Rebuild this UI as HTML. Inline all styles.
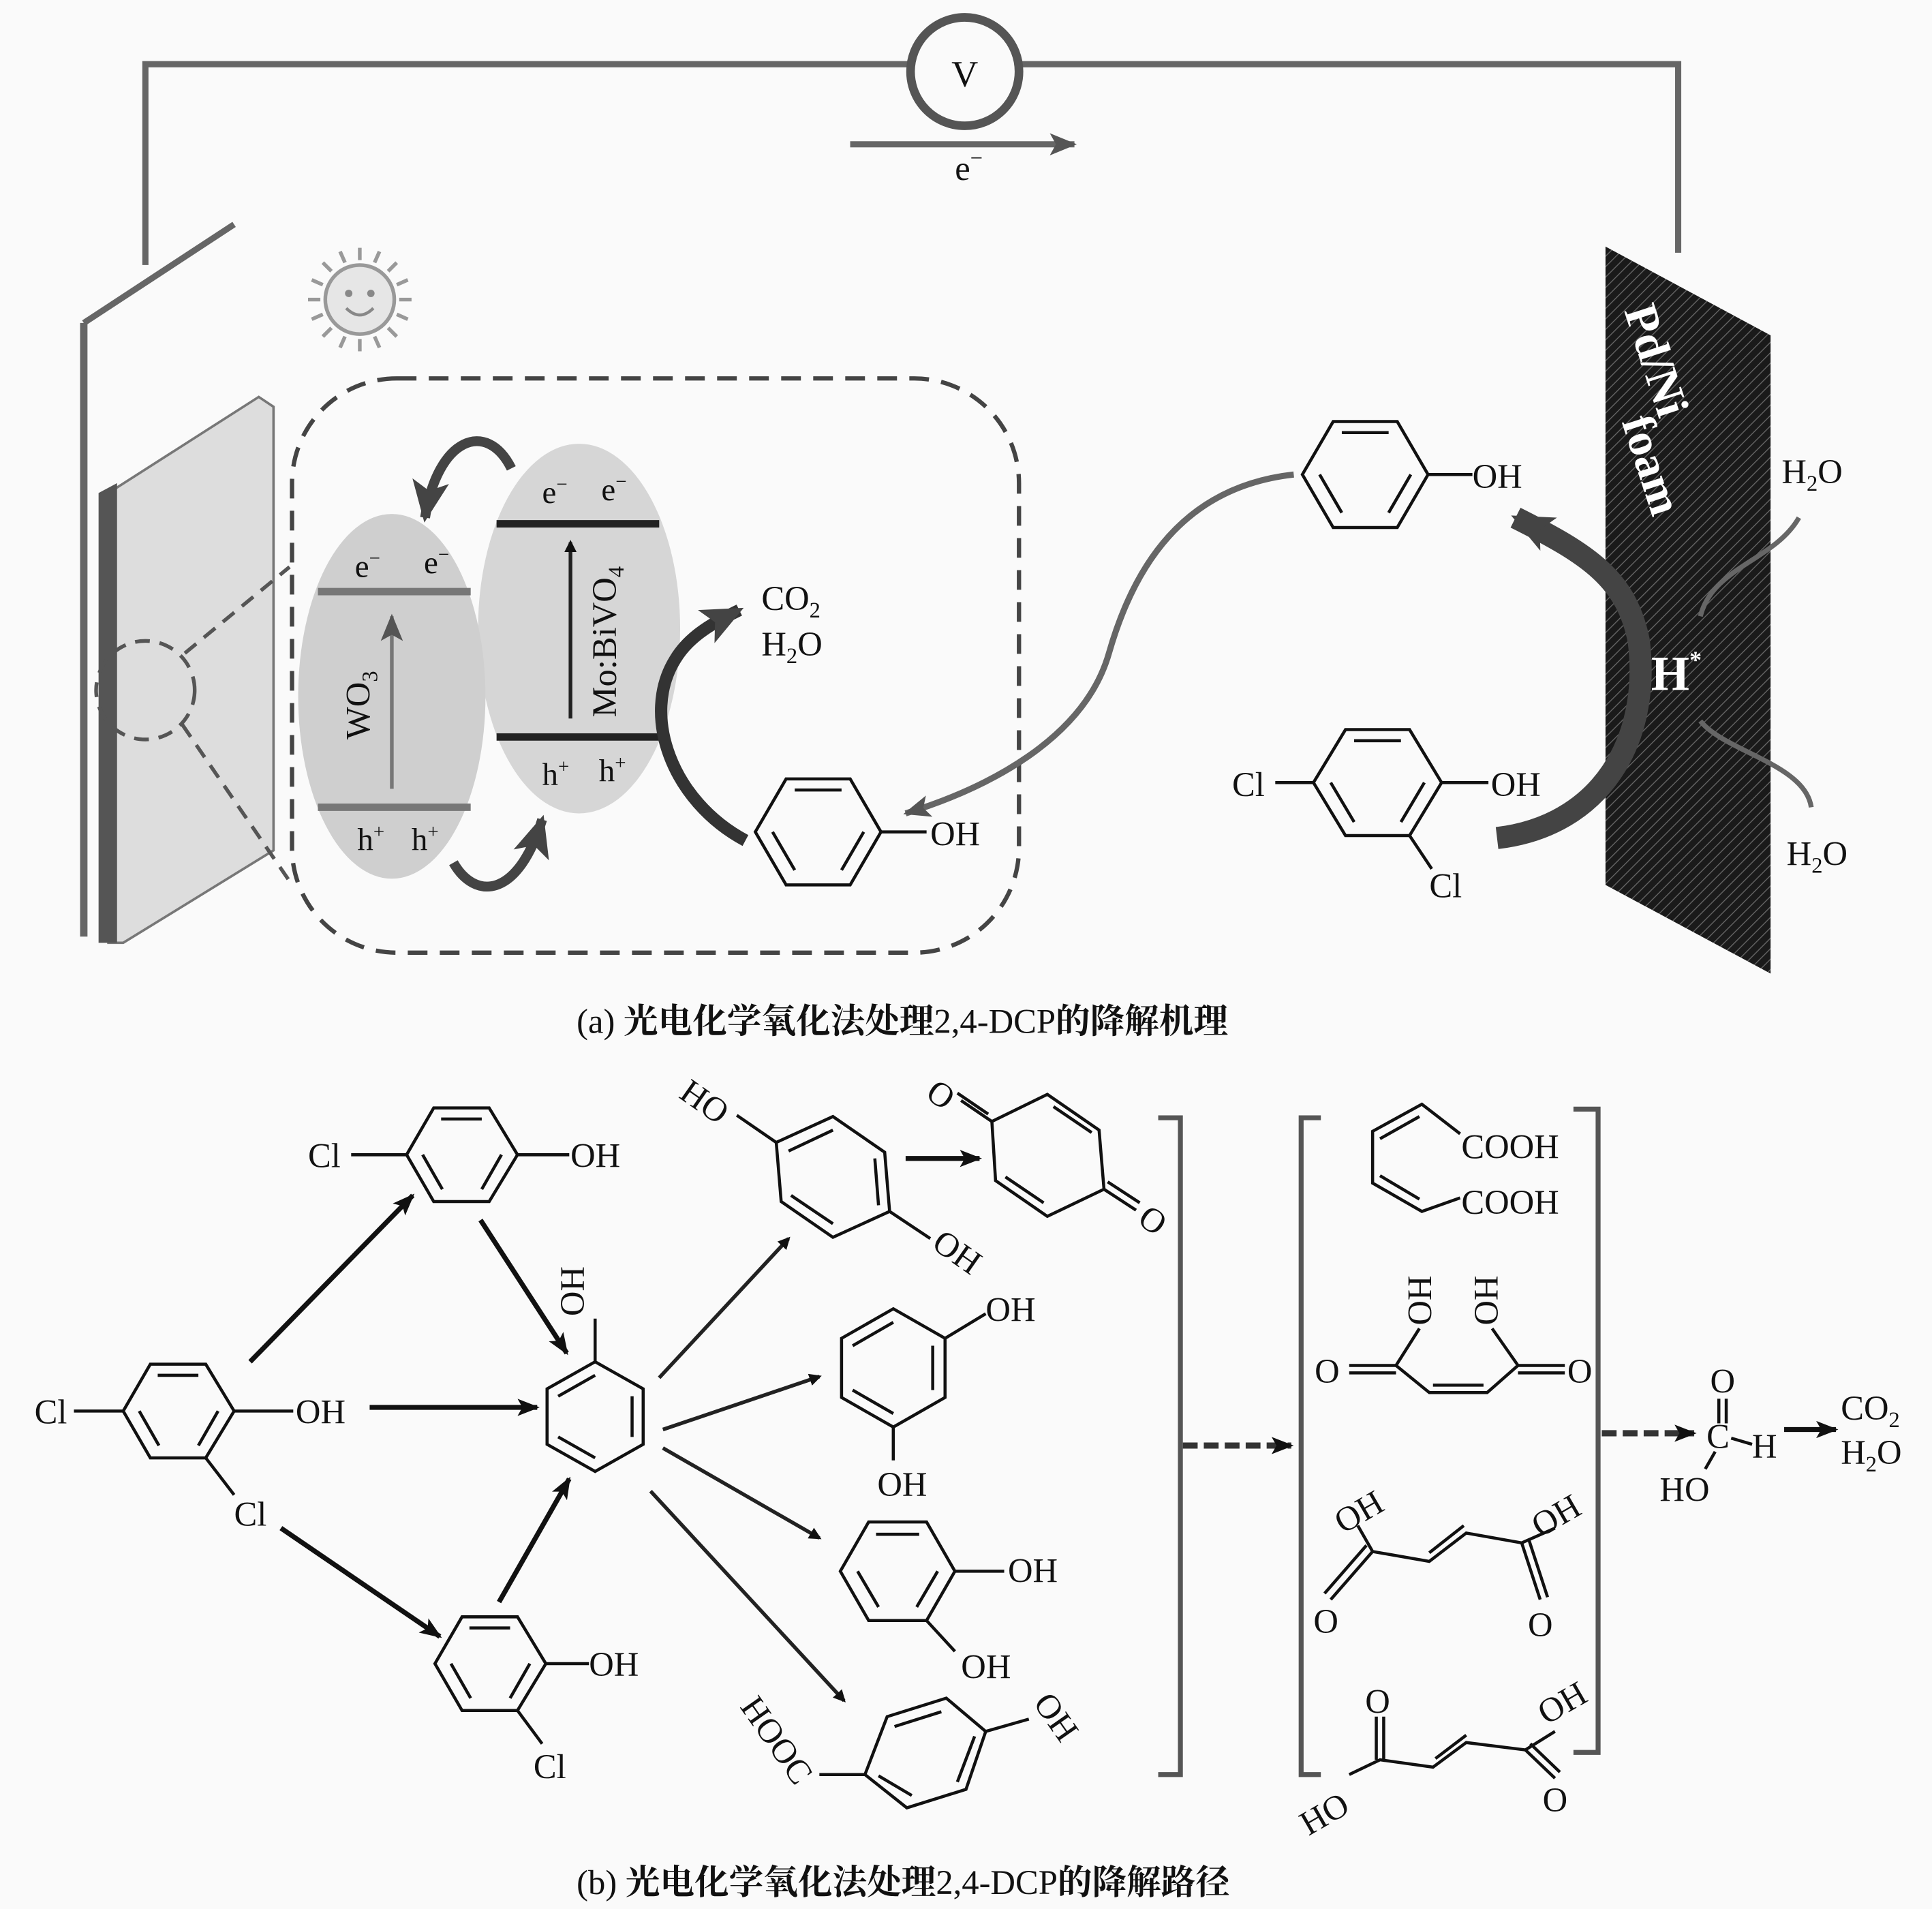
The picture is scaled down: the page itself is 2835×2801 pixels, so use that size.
<!DOCTYPE html>
<html><head><meta charset="utf-8"><style>
html,body{margin:0;padding:0;background:#fafafa}
svg{display:block}
text{font-family:"Liberation Serif","Noto Serif CJK SC",serif;fill:#111}
</style></head><body>
<svg width="2835" height="2801" viewBox="0 0 1568 1549" xmlns="http://www.w3.org/2000/svg">
<defs>
<marker id="ab" markerWidth="10" markerHeight="10" refX="8" refY="5" orient="auto" markerUnits="userSpaceOnUse" viewBox="0 0 10 10"><path d="M0,0 L10,5 L0,10 z" fill="#111"/></marker>
<marker id="abL" markerWidth="18" markerHeight="14" refX="16" refY="7" orient="auto" markerUnits="userSpaceOnUse" viewBox="0 0 18 14"><path d="M0,0 L18,7 L0,14 L4,7 z" fill="#111"/></marker>
<marker id="ag" markerWidth="22" markerHeight="18" refX="20" refY="9" orient="auto" markerUnits="userSpaceOnUse" viewBox="0 0 22 18"><path d="M0,0 L22,9 L0,18 L5,9 z" fill="#555"/></marker>
<marker id="ad" markerWidth="34" markerHeight="30" refX="30" refY="15" orient="auto" markerUnits="userSpaceOnUse" viewBox="0 0 34 30"><path d="M0,0 L34,15 L0,30 L8,15 z" fill="#444"/></marker>
<pattern id="hatch" width="6" height="6" patternUnits="userSpaceOnUse" patternTransform="rotate(45)"><rect width="6" height="6" fill="#1a1a1a"/><line x1="0" y1="0" x2="0" y2="6" stroke="#666" stroke-width="1.5"/></pattern>
</defs>
<rect width="1568" height="1549" fill="#fafafa"/>

<g stroke="#666" stroke-width="5" fill="none">
<path d="M118,215 L118,52 L738,52"/>
<path d="M829,52 L1362,52 L1362,205"/>
<circle cx="783" cy="58" r="44" stroke="#555" stroke-width="7" fill="#fafafa"/>
</g>
<text x="783" y="70" font-size="30" text-anchor="middle">V</text>
<line x1="690" y1="117" x2="872" y2="117" stroke="#666" stroke-width="5" marker-end="url(#ag)"/>
<text x="775" y="146" font-size="28">e<tspan font-size="18" dy="-12">−</tspan></text>

<path d="M68,262 L190,182" stroke="#666" stroke-width="5"/>
<path d="M68,262 L68,760" stroke="#666" stroke-width="6"/>
<polygon points="88,400 210,322 222,330 222,690 100,765 88,765" fill="#ddd" stroke="#777" stroke-width="2"/>
<polygon points="80,400 95,392 95,765 80,765" fill="#555"/>
<g stroke="#555" stroke-width="3" stroke-dasharray="12,8" fill="none">
<circle cx="118" cy="560" r="40"/>
<path d="M150,530 L235,460"/><path d="M148,588 L235,715"/>
</g>

<g transform="translate(292,243)">
<g stroke="#999" stroke-width="3">
<line x1="0" y1="-42" x2="0" y2="-32"/><line x1="0" y1="42" x2="0" y2="32"/><line x1="-42" y1="0" x2="-32" y2="0"/><line x1="42" y1="0" x2="32" y2="0"/>
<line x1="30" y1="30" x2="23" y2="23"/><line x1="-30" y1="30" x2="-23" y2="23"/><line x1="30" y1="-30" x2="23" y2="-23"/><line x1="-30" y1="-30" x2="-23" y2="-23"/>
<line x1="16" y1="-39" x2="12" y2="-30"/><line x1="-16" y1="-39" x2="-12" y2="-30"/><line x1="16" y1="39" x2="12" y2="30"/><line x1="-16" y1="39" x2="-12" y2="30"/>
<line x1="39" y1="16" x2="30" y2="12"/><line x1="-39" y1="16" x2="-30" y2="12"/><line x1="39" y1="-16" x2="30" y2="-12"/><line x1="-39" y1="-16" x2="-30" y2="-12"/>
</g>
<circle r="28" fill="#e6e6e6" stroke="#999" stroke-width="3"/>
<circle cx="-9" cy="-5" r="3" fill="#888"/><circle cx="9" cy="-5" r="3" fill="#888"/>
<path d="M-11,7 Q0,18 11,7" stroke="#888" stroke-width="2.5" fill="none"/>
</g>

<rect x="237" y="307" width="590" height="466" rx="85" fill="none" stroke="#444" stroke-width="3.5" stroke-dasharray="16,10"/>

<ellipse cx="470" cy="510" rx="82" ry="150" fill="#d6d6d6"/>
<ellipse cx="318" cy="565" rx="76" ry="148" fill="#cfcfcf"/>
<line x1="258" y1="480" x2="382" y2="480" stroke="#777" stroke-width="6"/>
<line x1="258" y1="655" x2="382" y2="655" stroke="#777" stroke-width="6"/>
<line x1="318" y1="640" x2="318" y2="500" stroke="#777" stroke-width="3" marker-end="url(#ag)"/>
<line x1="403" y1="425" x2="535" y2="425" stroke="#222" stroke-width="6"/>
<line x1="403" y1="598" x2="535" y2="598" stroke="#222" stroke-width="6"/>
<line x1="463" y1="583" x2="463" y2="440" stroke="#222" stroke-width="3" marker-end="url(#ab)"/>
<text x="288" y="468" font-size="26">e<tspan font-size="16" dy="-10">−</tspan></text>
<text x="344" y="465" font-size="26">e<tspan font-size="16" dy="-10">−</tspan></text>
<text x="440" y="408" font-size="26">e<tspan font-size="16" dy="-10">−</tspan></text>
<text x="488" y="406" font-size="26">e<tspan font-size="16" dy="-10">−</tspan></text>
<text x="290" y="690" font-size="26">h<tspan font-size="16" dy="-10">+</tspan></text>
<text x="334" y="690" font-size="26">h<tspan font-size="16" dy="-10">+</tspan></text>
<text x="440" y="637" font-size="26">h<tspan font-size="16" dy="-10">+</tspan></text>
<text x="486" y="634" font-size="26">h<tspan font-size="16" dy="-10">+</tspan></text>
<text transform="translate(300,600) rotate(-90)" font-size="28">WO<tspan font-size="18" dy="6">3</tspan></text>
<text transform="translate(500,582) rotate(-90)" font-size="28">Mo:BiVO<tspan font-size="18" dy="6">4</tspan></text>
<path d="M415,380 C395,340 355,355 345,420" stroke="#444" stroke-width="8" fill="none" marker-end="url(#ad)"/>
<path d="M368,700 C385,730 420,730 440,665" stroke="#444" stroke-width="8" fill="none" marker-end="url(#ad)"/>
<path d="M605,682 C545,650 520,580 548,535 C560,515 580,505 600,495" stroke="#333" stroke-width="10" fill="none" marker-end="url(#ad)"/>
<text x="618" y="495" font-size="28">CO<tspan font-size="18" dy="6">2</tspan></text>
<text x="618" y="532" font-size="28">H<tspan font-size="18" dy="6">2</tspan><tspan dy="-6">O</tspan></text>

<g stroke="#111" stroke-width="2.5" fill="none">
<polygon points="613,675 638,632 690,632 715,675 690,718 638,718"/>
<line x1="645" y1="641" x2="683" y2="641"/><line x1="627" y1="675" x2="645" y2="706"/><line x1="701" y1="675" x2="683" y2="706"/>
<line x1="715" y1="675" x2="752" y2="675"/>
</g>
<text x="755" y="686" font-size="28">OH</text>
<path d="M1050,385 C960,395 920,460 900,530 C880,600 800,640 735,660" stroke="#666" stroke-width="5" fill="none" marker-end="url(#ag)"/>

<polygon points="1303,200 1437,272 1437,790 1303,718" fill="url(#hatch)"/>
<text transform="translate(1318,252) rotate(72)" font-size="38" font-weight="bold" style="fill:#fff">Pd/Ni</text>
<text transform="translate(1316,342) rotate(72)" font-size="38" font-weight="bold" style="fill:#fff">foam</text>
<text x="1340" y="560" font-size="40" font-weight="bold" style="fill:#fff">H<tspan font-size="20" dy="-18">*</tspan></text>
<path d="M1460,420 C1440,455 1390,460 1380,500" stroke="#666" stroke-width="4" fill="none"/>
<path d="M1470,655 C1465,620 1400,610 1380,585" stroke="#666" stroke-width="4" fill="none"/>
<text x="1446" y="392" font-size="28">H<tspan font-size="18" dy="6">2</tspan><tspan dy="-6">O</tspan></text>
<text x="1450" y="702" font-size="28">H<tspan font-size="18" dy="6">2</tspan><tspan dy="-6">O</tspan></text>
<path d="M1215,680 C1300,670 1340,600 1330,520 C1320,470 1290,450 1230,420" stroke="#444" stroke-width="18" fill="none" marker-end="url(#ad)"/>

<g stroke="#111" stroke-width="2.5" fill="none">
<polygon points="1057,385 1082,342 1134,342 1159,385 1134,428 1082,428"/>
<line x1="1089" y1="351" x2="1127" y2="351"/><line x1="1071" y1="385" x2="1089" y2="416"/><line x1="1145" y1="385" x2="1127" y2="416"/>
<line x1="1159" y1="385" x2="1195" y2="385"/>
</g>
<text x="1195" y="396" font-size="28">OH</text>

<g stroke="#111" stroke-width="2.5" fill="none">
<polygon points="1066,635 1092,592 1144,592 1170,635 1144,678 1092,678"/>
<line x1="1099" y1="601" x2="1137" y2="601"/><line x1="1080" y1="635" x2="1099" y2="667"/><line x1="1156" y1="635" x2="1137" y2="667"/>
<line x1="1170" y1="635" x2="1208" y2="635"/><line x1="1066" y1="635" x2="1035" y2="635"/><line x1="1144" y1="678" x2="1162" y2="705"/>
</g>
<text x="1000" y="646" font-size="28">Cl</text>
<text x="1210" y="646" font-size="28">OH</text>
<text x="1160" y="728" font-size="28">Cl</text>

<text x="468" y="838" font-size="28">(a) <tspan font-weight="bold">光电化学氧化法处理</tspan>2,4-DCP<tspan font-weight="bold">的降解机理</tspan></text>

<g stroke="#111" stroke-width="2.5" fill="none">
<polygon points="100,1145 122,1107 167,1107 190,1145 167,1183 122,1183"/>
<line x1="128" y1="1116" x2="161" y2="1116"/><line x1="113" y1="1145" x2="129" y2="1173"/><line x1="177" y1="1145" x2="161" y2="1173"/>
<line x1="60" y1="1145" x2="100" y2="1145"/><line x1="190" y1="1145" x2="238" y2="1145"/><line x1="167" y1="1183" x2="190" y2="1213"/>
<polygon points="330,937 352,899 397,899 420,937 397,975 352,975"/>
<line x1="358" y1="908" x2="391" y2="908"/><line x1="343" y1="937" x2="359" y2="965"/><line x1="407" y1="937" x2="391" y2="965"/>
<line x1="285" y1="937" x2="330" y2="937"/><line x1="420" y1="937" x2="462" y2="937"/>
<polygon points="483,1105 522,1127 522,1172 483,1194 444,1172 444,1127"/>
<line x1="513" y1="1133" x2="513" y2="1166"/><line x1="453" y1="1133" x2="483" y2="1116"/><line x1="453" y1="1166" x2="483" y2="1183"/>
<line x1="483" y1="1105" x2="483" y2="1070"/>
<polygon points="353,1350 375,1312 420,1312 443,1350 420,1388 375,1388"/>
<line x1="381" y1="1321" x2="414" y2="1321"/><line x1="366" y1="1350" x2="382" y2="1378"/><line x1="430" y1="1350" x2="414" y2="1378"/>
<line x1="443" y1="1350" x2="478" y2="1350"/><line x1="420" y1="1388" x2="440" y2="1415"/>
<polygon points="630,927 676,906 718,935 722,983 676,1004 634,975"/>
<line x1="640" y1="934" x2="676" y2="917"/><line x1="710" y1="940" x2="713" y2="978"/><line x1="642" y1="970" x2="676" y2="993"/>
<line x1="630" y1="927" x2="598" y2="905"/><line x1="722" y1="983" x2="755" y2="1005"/>
<polygon points="805,910 850,888 892,917 896,965 850,987 808,958"/>
<line x1="855" y1="898" x2="886" y2="919"/><line x1="816" y1="955" x2="847" y2="976"/>
<line x1="805" y1="910" x2="780" y2="893"/><line x1="802" y1="904" x2="777" y2="887"/>
<line x1="896" y1="965" x2="922" y2="982"/><line x1="899" y1="959" x2="925" y2="976"/>
<polygon points="725,1062 767,1086 767,1134 725,1158 683,1134 683,1086"/>
<line x1="757" y1="1092" x2="757" y2="1128"/><line x1="692" y1="1092" x2="725" y2="1073"/><line x1="692" y1="1128" x2="725" y2="1147"/>
<line x1="767" y1="1086" x2="800" y2="1066"/><line x1="725" y1="1158" x2="725" y2="1185"/>
<polygon points="682,1275 705,1235 752,1235 775,1275 752,1315 705,1315"/>
<line x1="711" y1="1245" x2="746" y2="1245"/><line x1="696" y1="1275" x2="713" y2="1304"/><line x1="761" y1="1275" x2="744" y2="1304"/>
<line x1="775" y1="1275" x2="815" y2="1275"/><line x1="752" y1="1315" x2="775" y2="1340"/>
<polygon points="702,1440 720,1393 768,1378 800,1405 784,1452 736,1467"/>
<line x1="726" y1="1401" x2="764" y2="1389"/><line x1="791" y1="1409" x2="777" y2="1446"/><line x1="713" y1="1441" x2="740" y2="1457"/>
<line x1="702" y1="1440" x2="665" y2="1440"/><line x1="800" y1="1405" x2="835" y2="1395"/>
</g>
<text x="28" y="1155" font-size="28">Cl</text>
<text x="240" y="1155" font-size="28">OH</text>
<text x="190" y="1238" font-size="28">Cl</text>
<text x="250" y="947" font-size="28">Cl</text>
<text x="463" y="947" font-size="28">OH</text>
<text transform="translate(474,1068) rotate(-90)" font-size="28" text-anchor="start">OH</text>
<text x="478" y="1360" font-size="28">OH</text>
<text x="433" y="1443" font-size="28">Cl</text>
<text transform="translate(550,890) rotate(35)" font-size="28">HO</text>
<text transform="translate(755,1012) rotate(35)" font-size="28">OH</text>
<text transform="translate(750,890) rotate(35)" font-size="28">O</text>
<text transform="translate(922,992) rotate(35)" font-size="28">O</text>
<text x="800" y="1072" font-size="28">OH</text>
<text x="712" y="1214" font-size="28">OH</text>
<text x="818" y="1284" font-size="28">OH</text>
<text x="780" y="1362" font-size="28">OH</text>
<text transform="translate(600,1385) rotate(55)" font-size="28">HOOC</text>
<text transform="translate(838,1382) rotate(55)" font-size="28">OH</text>

<g stroke="#111" stroke-width="4" fill="none">
<line x1="203" y1="1105" x2="335" y2="970" marker-end="url(#abL)"/>
<line x1="390" y1="990" x2="460" y2="1098" marker-end="url(#abL)"/>
<line x1="300" y1="1142" x2="436" y2="1142" marker-end="url(#abL)"/>
<line x1="228" y1="1240" x2="357" y2="1328" marker-end="url(#abL)"/>
<line x1="405" y1="1300" x2="462" y2="1200" marker-end="url(#abL)"/>
<line x1="735" y1="940" x2="795" y2="940" marker-end="url(#abL)"/>
</g>
<g stroke="#222" stroke-width="3" fill="none">
<line x1="535" y1="1118" x2="640" y2="1005" marker-end="url(#ab)"/>
<line x1="538" y1="1160" x2="665" y2="1117" marker-end="url(#ab)"/>
<line x1="538" y1="1175" x2="665" y2="1248" marker-end="url(#ab)"/>
<line x1="528" y1="1210" x2="685" y2="1380" marker-end="url(#ab)"/>
</g>

<g stroke="#555" stroke-width="4" fill="none">
<path d="M940,907 L958,907 L958,1440 L940,1440"/>
<path d="M1072,907 L1056,907 L1056,1440 L1072,1440"/>
<path d="M1277,900 L1297,900 L1297,1422 L1277,1422"/>
</g>
<line x1="960" y1="1173" x2="1048" y2="1173" stroke="#333" stroke-width="5" stroke-dasharray="12,5" marker-end="url(#abL)"/>
<line x1="1300" y1="1163" x2="1375" y2="1163" stroke="#333" stroke-width="5" stroke-dasharray="12,5" marker-end="url(#abL)"/>

<g stroke="#111" stroke-width="2.5" fill="none">
<polyline points="1185,920 1154,896 1114,918 1114,960 1154,983 1185,972"/>
<line x1="1120" y1="924" x2="1152" y2="906"/><line x1="1120" y1="954" x2="1152" y2="973"/>
<line x1="1095" y1="1108" x2="1133" y2="1108"/><line x1="1095" y1="1114" x2="1133" y2="1114"/>
<polyline points="1152,1078 1133,1108 1160,1130 1207,1130 1232,1108 1211,1078"/>
<line x1="1163" y1="1124" x2="1204" y2="1124"/>
<line x1="1232" y1="1108" x2="1270" y2="1108"/><line x1="1232" y1="1114" x2="1270" y2="1114"/>
<polyline points="1102,1238 1114,1259 1160,1267 1190,1244 1235,1252 1262,1240"/>
<line x1="1160" y1="1260" x2="1188" y2="1238"/>
<line x1="1114" y1="1259" x2="1080" y2="1298"/><line x1="1109" y1="1254" x2="1075" y2="1293"/>
<line x1="1235" y1="1252" x2="1250" y2="1298"/><line x1="1241" y1="1250" x2="1256" y2="1296"/>
<polyline points="1095,1440 1120,1428 1163,1434 1190,1414 1238,1420 1262,1405"/>
<line x1="1165" y1="1427" x2="1190" y2="1408"/>
<line x1="1117" y1="1428" x2="1117" y2="1393"/><line x1="1123" y1="1428" x2="1123" y2="1393"/>
<line x1="1238" y1="1420" x2="1262" y2="1443"/><line x1="1242" y1="1415" x2="1266" y2="1438"/>
<line x1="1395" y1="1135" x2="1395" y2="1155"/><line x1="1401" y1="1135" x2="1401" y2="1155"/>
<line x1="1405" y1="1167" x2="1422" y2="1172"/><line x1="1392" y1="1178" x2="1384" y2="1192"/>
</g>
<text x="1186" y="940" font-size="28">COOH</text>
<text x="1186" y="985" font-size="28">COOH</text>
<text x="1067" y="1122" font-size="28">O</text>
<text x="1272" y="1122" font-size="28">O</text>
<text transform="translate(1143,1035) rotate(90)" font-size="28">HO</text>
<text transform="translate(1197,1035) rotate(90)" font-size="28">HO</text>
<text transform="translate(1090,1245) rotate(-30)" font-size="28">OH</text>
<text transform="translate(1250,1248) rotate(-30)" font-size="28">OH</text>
<text x="1066" y="1325" font-size="28">O</text>
<text x="1240" y="1328" font-size="28">O</text>
<text x="1108" y="1390" font-size="28">O</text>
<text x="1252" y="1470" font-size="28">O</text>
<text transform="translate(1062,1490) rotate(-30)" font-size="28">HO</text>
<text transform="translate(1255,1400) rotate(-30)" font-size="28">OH</text>
<text x="1388" y="1130" font-size="28">O</text>
<text x="1385" y="1175" font-size="28">C</text>
<text x="1422" y="1183" font-size="28">H</text>
<text x="1347" y="1218" font-size="28">HO</text>
<line x1="1448" y1="1160" x2="1490" y2="1160" stroke="#111" stroke-width="4" marker-end="url(#abL)"/>
<text x="1494" y="1152" font-size="28">CO<tspan font-size="18" dy="6">2</tspan></text>
<text x="1494" y="1188" font-size="28">H<tspan font-size="18" dy="6">2</tspan><tspan dy="-6">O</tspan></text>

<text x="468" y="1537" font-size="28">(b) <tspan font-weight="bold">光电化学氧化法处理</tspan>2,4-DCP<tspan font-weight="bold">的降解路径</tspan></text>
</svg>
</body></html>
